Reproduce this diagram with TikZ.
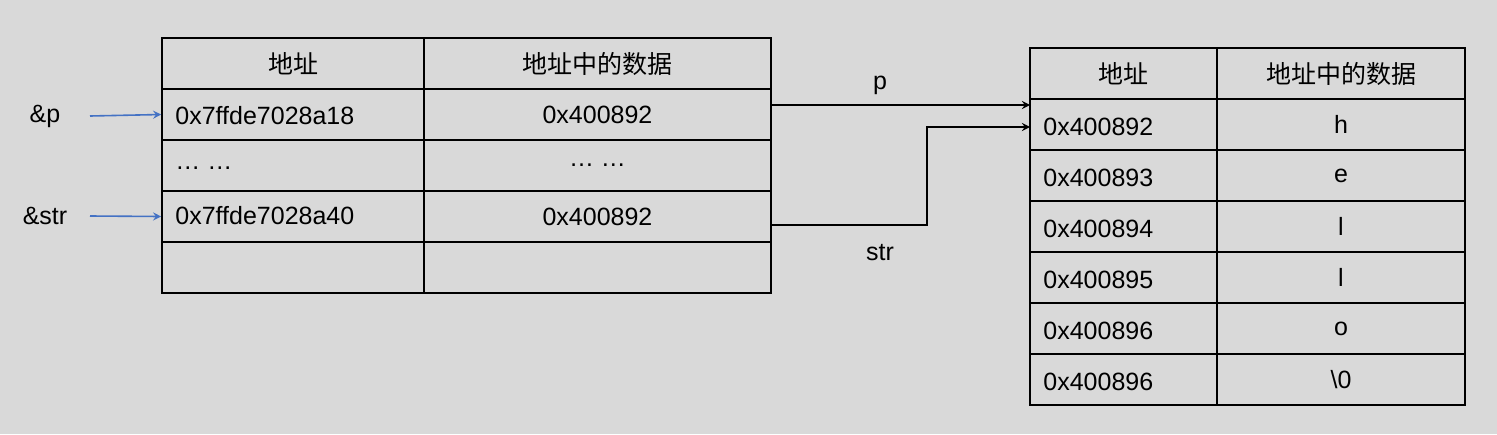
\documentclass[tikz,border=0pt]{standalone}
\usepackage{fontspec}
\setmainfont{Liberation Sans}
\newfontfamily\cjk{Noto Sans CJK SC}
\usetikzlibrary{positioning}
\begin{document}
\begin{tikzpicture}[
        x = 0.5pt, y = -0.5pt,
        cell/.style = {draw, thick, inner sep=0pt, font=\fontsize{12.5}{15}\selectfont},
        lab/.style = {inner sep=0pt, font=\fontsize{12.5}{15}\selectfont},
        ptr/.style = {->, thick, >=stealth},
        bptr/.style = {->, thick, color={rgb,255:red,68;green,114;blue,196}, >=stealth}
    ]
    \fill[color={rgb,255:red,217;green,217;blue,217}] (0,0) rectangle (1497,434);

    % left table
    \foreach \i/\a/\d in {0/{\cjk 地址}/{\cjk 地址中的数据}, 1/0x7ffde7028a18/0x400892,
                          2/{… …}/{… …}, 3/0x7ffde7028a40/0x400892, 4/{}/{}} {
        \node[cell, minimum width=131pt, minimum height=25.5pt] (la\i) at (293, 63.5+51*\i) {};
        \node[cell, minimum width=173.5pt, minimum height=25.5pt] (ld\i) at (597.5, 63.5+51*\i) {\d};
    }
    \node[lab, anchor=center] at (la0) {\cjk 地址};
    \node[lab, anchor=west] at (175,116) {0x7ffde7028a18};
    \node[lab, anchor=west] at (175,168) {… …};
    \node[lab, anchor=west] at (175,216) {0x7ffde7028a40};

    % right table
    \foreach \i/\a/\d in {0/{}/{\cjk 地址中的数据}, 1/0x400892/h, 2/0x400893/e, 3/0x400894/l,
                          4/0x400895/l, 5/0x400896/o, 6/0x400896/\textbackslash 0} {
        \node[cell, minimum width=93.5pt, minimum height=25.5pt] (ra\i) at (1123.5, 73.5+51*\i) {};
        \node[lab, anchor=west] at (1043, 73.5+51*\i+2) {\a};
        \node[cell, minimum width=124pt, minimum height=25.5pt] (rd\i) at (1341, 73.5+51*\i) {\d};
    }
    \node[lab] at (ra0) {\cjk 地址};

    % pointers
    \node[lab] (amp) at (45,116) {\&p};
    \node[lab] (amstr) at (45,216) {\&str};
    \coordinate (ap) at (90,116);
    \coordinate (as) at (90,216);
    \draw[bptr] (ap) -- (la1.west);
    \draw[bptr] (as) -- (la3.west);

    \coordinate (p0) at (771,105);
    \coordinate (p1) at (1030,105);
    \draw[ptr] (p0) -- (p1);
    \node[lab] (plab) at (880,85) {p};

    \coordinate (s0) at (771,225);
    \coordinate (s1) at (1030,127);
    \draw[ptr] (s0) -- (927,225) -- (927,127) -- (s1);
    \node[lab] (slab) at (880,253) {str};
\end{tikzpicture}
\end{document}
